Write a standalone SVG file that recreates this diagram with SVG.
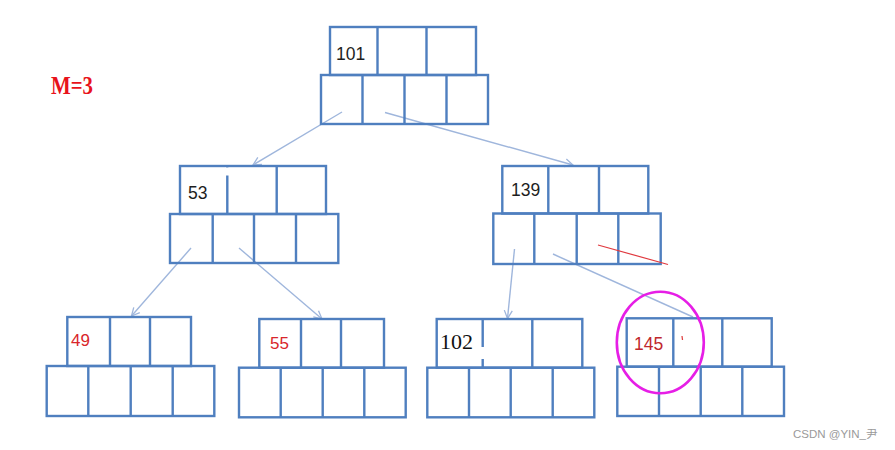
<svg xmlns="http://www.w3.org/2000/svg" width="895" height="450" viewBox="0 0 895 450">
<style>
.c{fill:none;stroke:#4f7fbf;stroke-width:2.4}
.k{font-family:"Liberation Sans",Arial,sans-serif;font-size:17.5px;fill:#1e1e1e}
.r{font-family:"Liberation Sans",Arial,sans-serif;font-size:17px;fill:#d9262b}
.e{stroke:#9fb6dc;stroke-width:1.4;fill:none}
</style>
<defs>
<marker id="a" markerWidth="10" markerHeight="10" refX="9" refY="5" orient="auto" markerUnits="userSpaceOnUse">
<path d="M1,1 L9,5 L1,9" fill="none" stroke="#9fb6dc" stroke-width="1.3"/>
</marker>
</defs>
<rect width="895" height="450" fill="#fff"/>
<text x="51" y="94" font-family="'Liberation Serif','Times New Roman',serif" font-weight="bold" font-size="26" fill="#e8131b" textLength="42" lengthAdjust="spacingAndGlyphs">M=3</text>
<g id="connectors">
<line class="e" x1="342" y1="112" x2="253" y2="165" marker-end="url(#a)"/>
<line class="e" x1="385" y1="112.5" x2="573" y2="165" marker-end="url(#a)"/>
<line class="e" x1="191" y1="248" x2="131.5" y2="316" marker-end="url(#a)"/>
<line class="e" x1="239" y1="248" x2="322" y2="319" marker-end="url(#a)"/>
<line class="e" x1="514.5" y1="249" x2="507.5" y2="318.5" marker-end="url(#a)"/>
<line class="e" x1="553" y1="254" x2="693" y2="317"/>
</g>
<g id="n101">
<rect class="c" x="330" y="27" width="146" height="48"/>
<path class="c" d="M377.5,27V75M426.5,27V75"/>
<rect class="c" x="321" y="75" width="167" height="49"/>
<path class="c" d="M362.5,75V124M404.5,75V124M446.5,75V124"/>
<text class="k" x="336" y="60">101</text>
</g>
<g id="n53">
<rect class="c" x="180" y="166" width="146" height="48"/>
<path class="c" d="M227.3,166V214M276.7,166V214"/>
<rect class="c" x="170" y="214" width="168.3" height="49"/>
<path class="c" d="M212.7,214V263M254,214V263M296,214V263"/>
<rect x="225.5" y="167.5" width="3.5" height="8" fill="#fff"/>
<text class="k" x="188" y="198.5">53</text>
</g>
<g id="n139">
<rect class="c" x="502.3" y="166" width="146" height="47.5"/>
<path class="c" d="M548.3,166V213.5M599,166V213.5"/>
<rect class="c" x="493.3" y="213.5" width="167.4" height="50.5"/>
<path class="c" d="M534.3,213.5V264M576.7,213.5V264M618.3,213.5V264"/>
<line x1="598" y1="245" x2="668" y2="264.5" stroke="#e0393f" stroke-width="1.2"/>
<text class="k" x="511" y="196">139</text>
</g>
<g id="n49">
<rect class="c" x="67.3" y="317" width="123.7" height="49"/>
<path class="c" d="M110,317V366M150,317V366"/>
<rect class="c" x="46.7" y="366" width="167.6" height="50"/>
<path class="c" d="M88.3,366V416M130.7,366V416M172.7,366V416"/>
<text class="r" x="71" y="345.5">49</text>
</g>
<g id="n55">
<rect class="c" x="259.3" y="319" width="124.7" height="48.7"/>
<path class="c" d="M301,319V367.7M341,319V367.7"/>
<rect class="c" x="239" y="367.7" width="166.7" height="49.6"/>
<path class="c" d="M280.7,367.7V417.3M322.7,367.7V417.3M364.3,367.7V417.3"/>
<text class="r" x="270" y="348.5">55</text>
</g>
<g id="n102">
<rect class="c" x="436.7" y="319" width="145.6" height="48.7"/>
<path class="c" d="M482.7,319V367.7M532.3,319V367.7"/>
<rect class="c" x="427.3" y="367.7" width="167" height="49.6"/>
<path class="c" d="M469,367.7V417.3M510.7,367.7V417.3M552.7,367.7V417.3"/>
<rect x="480.5" y="347" width="4.5" height="12" fill="#fff"/>
<text x="440" y="349" font-family="'Liberation Serif','Times New Roman',serif" font-size="22" fill="#111">102</text>
</g>
<g id="n145">
<rect class="c" x="626.7" y="318.3" width="145" height="48.4"/>
<path class="c" d="M673.3,318.3V366.7M722.3,318.3V366.7"/>
<rect class="c" x="617.3" y="366.7" width="166.7" height="49.3"/>
<path class="c" d="M659,366.7V416M700.7,366.7V416M742.3,366.7V416"/>
<text x="634" y="350" font-family="'Liberation Sans',Arial,sans-serif" font-size="17.5" fill="#c0282d">145</text>
<line x1="682" y1="336" x2="682.5" y2="340" stroke="#e04040" stroke-width="1.2"/>
<ellipse cx="660.3" cy="342.5" rx="43.5" ry="50.8" fill="none" stroke="#e61ee6" stroke-width="2.6"/>
</g>
<text x="793" y="437.5" font-family="'Liberation Sans','Noto Sans CJK SC',sans-serif" font-size="11.5" fill="#9a9a9a">CSDN @YIN_尹</text>
</svg>
